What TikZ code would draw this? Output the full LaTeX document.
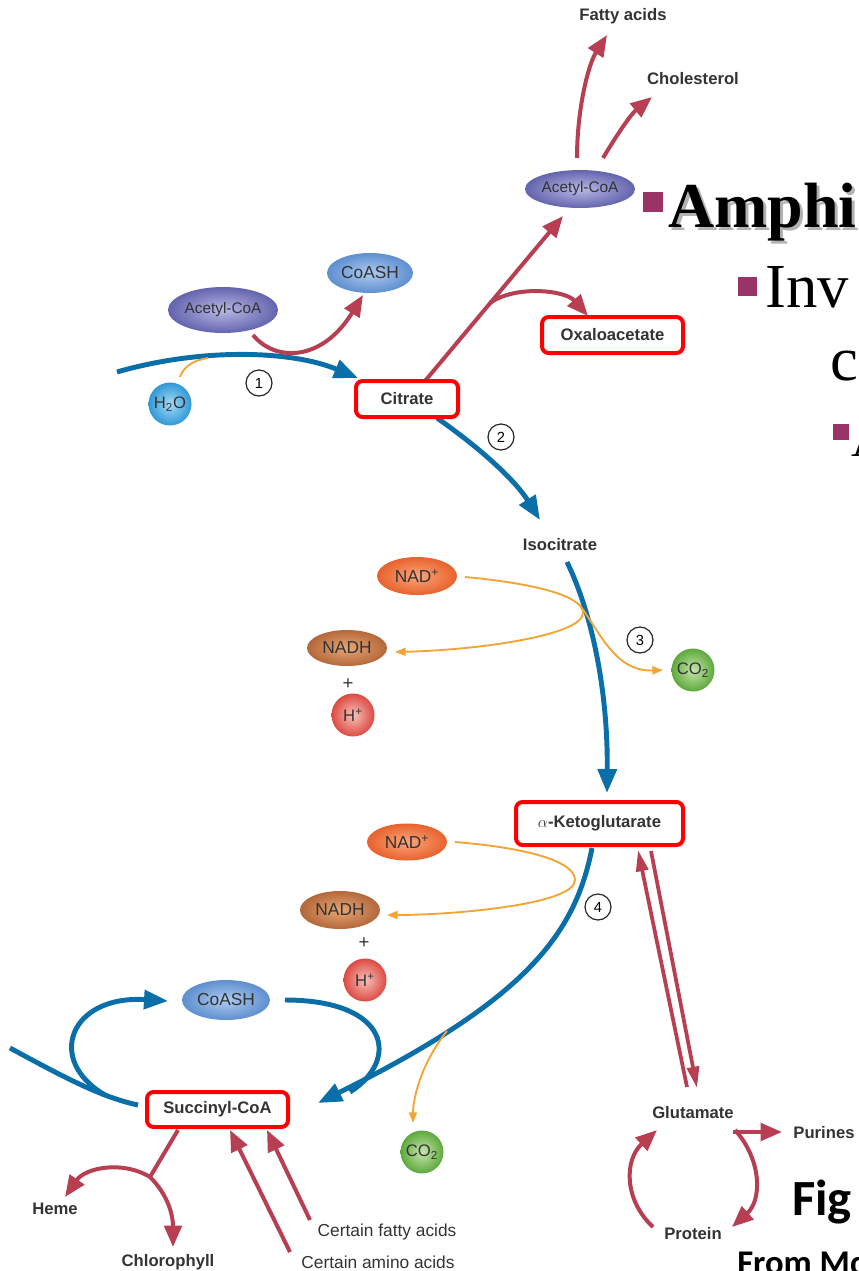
\documentclass[tikz,border=0pt]{standalone}
\usepackage{fontspec}
\setmainfont{Liberation Sans}
\newfontfamily\slidefont{Liberation Serif}
\newfontfamily\figfont{Carlito}
\usetikzlibrary{arrows.meta,shapes.geometric,calc}
\definecolor{cblue}{HTML}{0A6EA8}
\definecolor{cred}{HTML}{B83E52}
\definecolor{corange}{HTML}{F2A435}
\definecolor{ctext}{HTML}{333333}
\definecolor{slidemag}{HTML}{9B3466}
\definecolor{acoaL}{HTML}{B8B8E6}
\definecolor{acoaD}{HTML}{6464AE}
\definecolor{coaL}{HTML}{AFCBF0}
\definecolor{coaD}{HTML}{5E8FD0}
\definecolor{nadL}{HTML}{FBA57C}
\definecolor{nadD}{HTML}{E8622C}
\definecolor{nadhL}{HTML}{E6A676}
\definecolor{nadhD}{HTML}{B4683A}
\definecolor{hL}{HTML}{F6C2BA}
\definecolor{hD}{HTML}{DD4A42}
\definecolor{h2oL}{HTML}{A8DAF6}
\definecolor{h2oD}{HTML}{2F98D8}
\definecolor{co2L}{HTML}{C6E6AE}
\definecolor{co2D}{HTML}{5EA83C}
\begin{document}
\begin{tikzpicture}[x=0.75pt,y=-0.75pt,
  lab/.style={font=\fontsize{12.5}{14}\selectfont\bfseries, text=ctext, inner sep=1pt},
  reg/.style={font=\fontsize{13}{15}\selectfont, text=ctext, inner sep=1pt},
  hl/.style 2 args={draw=red, line width=3pt, rounded corners=5pt, fill=white, minimum width=#1*0.75pt, minimum height=#2*0.75pt, inner sep=0pt, font=\fontsize{12.5}{14}\selectfont\bfseries, text=ctext},
  oval/.style n args={4}{ellipse, minimum width=#1*0.75pt, minimum height=#2*0.75pt, inner sep=0pt, inner color=#3, outer color=#4, font=\fontsize{13}{15}\selectfont, text=ctext},
  sphere/.style 2 args={circle, minimum size=43*0.75pt, inner sep=0pt, inner color=#1, outer color=#2, font=\fontsize{12.5}{14}\selectfont, text=ctext},
  num/.style={circle, draw=black!85, line width=0.9pt, minimum size=26*0.75pt, inner sep=0pt, font=\fontsize{11}{13}\selectfont},
  bl/.style={draw=cblue, line width=3.7pt},
  blarr/.style={bl, -{Triangle[length=18pt,width=14pt]}},
  rd/.style={draw=cred, line width=3pt},
  rdarr/.style={rd, -{Triangle[length=16pt,width=13pt]}},
  rdthin/.style={draw=cred, line width=2.8pt, -{Triangle[length=16pt,width=9pt]}},
  orline/.style={draw=corange, line width=1.4pt},
  orarr/.style={orline, -{Triangle[length=8pt,width=6pt]}},
  slide/.style={anchor=base west, inner sep=0pt},
]
\useasboundingbox (0,0) rectangle (859,1271);
\clip (0,0) rectangle (859,1271);

% ---------------- connectors (free ends as named coordinates)
\coordinate (inL) at (117,372);
\coordinate (citIn) at (358,378);
\coordinate (h2oTop) at (180,377);
\coordinate (h2oJoin) at (208,358);
\coordinate (acoaOut) at (253,335);
\coordinate (coashIn) at (363,295);
\coordinate (citTop) at (425,381);
\coordinate (acoa2In) at (563,216);
\coordinate (branchO) at (490,303);
\coordinate (oxIn) at (588,316);
\coordinate (faStart) at (577,158);
\coordinate (faEnd) at (607,35);
\coordinate (chStart) at (603,158);
\coordinate (chEnd) at (652,97);
\coordinate (citOut) at (437,418);
\coordinate (isoIn) at (540,520);
\coordinate (isoOut) at (567,562);
\coordinate (akgIn) at (607,793);
\coordinate (nad1Out) at (465,577);
\coordinate (turn1) at (583,613);
\coordinate (nadh1In) at (395,652);
\coordinate (co2aIn) at (663,670);
\coordinate (nad2Out) at (455,842);
\coordinate (turn2) at (575,880);
\coordinate (nadh2In) at (387,915);
\coordinate (akgOut) at (592,848);
\coordinate (sucIn) at (318,1103);
\coordinate (co2bBr) at (447,1031);
\coordinate (co2bIn) at (413,1123);
\coordinate (leftEnd) at (10,1048);
\coordinate (sucLeft) at (138,1105);
\coordinate (loopStart) at (105,1095);
\coordinate (coash2In) at (168,1001);
\coordinate (coash2Out) at (285,1000);
\coordinate (mergeR) at (350,1092);
\coordinate (sucBot) at (178,1130);
\coordinate (hemeBr) at (150,1177);
\coordinate (hemeIn) at (65,1197);
\coordinate (chlIn) at (173,1247);
\coordinate (aminoStart) at (290,1252);
\coordinate (aminoEnd) at (230,1130);
\coordinate (fattyStart) at (310,1220);
\coordinate (fattyEnd) at (267,1130);
\coordinate (akgUpS) at (687,1087);
\coordinate (akgUpE) at (638,850);
\coordinate (gluDnS) at (651,851);
\coordinate (gluDnE) at (697,1088);
\coordinate (gluR) at (735,1130);
\coordinate (protIn) at (732,1227);
\coordinate (purS) at (733,1132);
\coordinate (purE) at (782,1132);
\coordinate (protOut) at (653,1227);
\coordinate (gluIn) at (657,1130);

% blue main pathway
\draw[blarr] (inL) .. controls (200,348) and (290,350) .. (citIn);
\draw[blarr] (citOut) .. controls (480,448) and (515,480) .. (isoIn);
\draw[blarr] (isoOut) .. controls (595,620) and (608,700) .. (akgIn);
\draw[blarr] (akgOut) .. controls (575,935) and (525,1000) .. (sucIn);
\draw[bl] (leftEnd) .. controls (60,1075) and (100,1097) .. (sucLeft);
\draw[blarr] (loopStart) .. controls (45,1060) and (70,995) .. (coash2In);
\draw[bl] (coash2Out) .. controls (390,1000) and (400,1060) .. (mergeR);

% orange side reactions
\draw[orline] (h2oTop) .. controls (184,366) and (194,360) .. (h2oJoin);
\draw[orline] (nad1Out) .. controls (530,583) and (583,595) .. (turn1);
\draw[orarr] (turn1) .. controls (583,635) and (480,650) .. (nadh1In);
\draw[orarr] (579,604) .. controls (600,632) and (615,672) .. (co2aIn);
\draw[orline] (nad2Out) .. controls (530,848) and (575,862) .. (turn2);
\draw[orarr] (turn2) .. controls (575,905) and (450,915) .. (nadh2In);
\draw[orarr] (co2bBr) .. controls (420,1065) and (413,1100) .. (co2bIn);

% red branches
\draw[rdarr] (acoaOut) .. controls (275,362) and (322,362) .. (coashIn);
\draw[rdarr] (citTop) -- (acoa2In);
\draw[rdarr] (branchO) .. controls (515,285) and (565,290) .. (oxIn);
\draw[rdarr] (faStart) .. controls (577,110) and (588,65) .. (faEnd);
\draw[rdarr] (chStart) .. controls (615,138) and (630,115) .. (chEnd);
\draw[rd] (sucBot) -- (hemeBr);
\draw[rdarr] (hemeBr) .. controls (122,1160) and (85,1168) .. (hemeIn);
\draw[rdarr] (hemeBr) .. controls (168,1195) and (173,1215) .. (chlIn);
\draw[rdarr] (aminoStart) -- (aminoEnd);
\draw[rdarr] (fattyStart) -- (fattyEnd);
\draw[rdthin] (akgUpS) -- (akgUpE);
\draw[rdthin] (gluDnS) -- (gluDnE);
\draw[rdarr] (gluR) .. controls (762,1160) and (762,1200) .. (protIn);
\draw[rdarr] (purS) -- (purE);
\draw[rdarr] (protOut) .. controls (624,1200) and (624,1160) .. (gluIn);

% ---------------- nodes
\node[lab] (fatty) at (623,16) {Fatty acids};
\node[lab] (chol) at (693,79) {Cholesterol};
\node[oval={110}{38}{acoaL}{acoaD}, font=\fontsize{11.5}{13}\selectfont] (acoa2) at (580,189) {Acetyl-CoA};
\node[oval={110}{46}{acoaL}{acoaD}, font=\fontsize{11.5}{13}\selectfont] (acoa1) at (223,310) {Acetyl-CoA};
\node[oval={86}{40}{coaL}{coaD}] (coash1) at (370,273) {CoASH};
\node[sphere={h2oL}{h2oD}] (h2o) at (170,404) {H\textsubscript{2}O};
\node[num] (n1) at (259,383) {1};
\node[hl={102}{36}] (citrate) at (407,399) {Citrate};
\node[hl={141}{36}] (oxalo) at (612.5,335) {Oxaloacetate};
\node[num] (n2) at (501,437) {2};
\node[lab] (iso) at (560,545) {Isocitrate};
\node[oval={80}{38}{nadL}{nadD}] (nad1) at (417,576) {NAD\textsuperscript{+}};
\node[oval={80}{36}{nadhL}{nadhD}] (nadh1) at (347,648) {NADH};
\node[font=\fontsize{14}{15}\selectfont, text=ctext, inner sep=0pt] (plus1) at (348,684) {+};
\node[sphere={hL}{hD}] (h1) at (353,715) {H\textsuperscript{+}};
\node[num] (n3) at (640,640) {3};
\node[sphere={co2L}{co2D}] (co2a) at (693,670) {CO\textsubscript{2}};
\node[hl={167}{43}] (akg) at (599.5,823.5) {$\alpha$-Ketoglutarate};
\node[oval={80}{37}{nadL}{nadD}] (nad2) at (407,842) {NAD\textsuperscript{+}};
\node[oval={80}{38}{nadhL}{nadhD}] (nadh2) at (340,910) {NADH};
\node[font=\fontsize{14}{15}\selectfont, text=ctext, inner sep=0pt] (plus2) at (364,943) {+};
\node[sphere={hL}{hD}] (h2) at (365,980) {H\textsuperscript{+}};
\node[num] (n4) at (598,907) {4};
\node[oval={88}{40}{coaL}{coaD}] (coash2) at (226,1000) {CoASH};
\node[hl={141}{35}] (succ) at (217.5,1109.5) {Succinyl-CoA};
\node[sphere={co2L}{co2D}] (co2b) at (422,1152) {CO\textsubscript{2}};
\node[lab] (heme) at (55,1209) {Heme};
\node[lab] (chloro) at (168,1262) {Chlorophyll};
\node[reg] (cfa) at (387,1232) {Certain fatty acids};
\node[reg] (caa) at (378,1262) {Certain amino acids};
\node[lab] (glu) at (693,1113) {Glutamate};
\node[lab] (pur) at (824,1133) {Purines};
\node[lab] (prot) at (693,1234) {Protein};

% ---------------- slide text (cut by the frame)
\fill[slidemag] (643,192) rectangle (663,212);
\node[slide, text=black!60, opacity=0.5, font=\slidefont\bfseries\fontsize{48}{50}\selectfont] (amphiShadow) at (671,230) {Amphi};
\node[slide, text=black, font=\slidefont\bfseries\fontsize{48}{50}\selectfont] (amphi) at (668,227) {Amphi};
\fill[slidemag] (738,277) rectangle (757,296);
\node[slide, text=black, font=\slidefont\fontsize{47}{50}\selectfont] (inv) at (765,307) {Inv};
\node[slide, text=black, font=\slidefont\fontsize{47}{50}\selectfont] (cline) at (830,380) {c};
\fill[slidemag] (833,424) rectangle (849,440);
\node[slide, text=black, font=\slidefont\fontsize{40}{42}\selectfont] (aline) at (851,456) {A};
\node[slide, text=black, font=\figfont\bfseries\fontsize{38}{40}\selectfont] (fig) at (792,1215) {Fig};
\node[slide, text=black, font=\figfont\bfseries\fontsize{26}{28}\selectfont] (from) at (737,1274) {From Mc};
\end{tikzpicture}
\end{document}
